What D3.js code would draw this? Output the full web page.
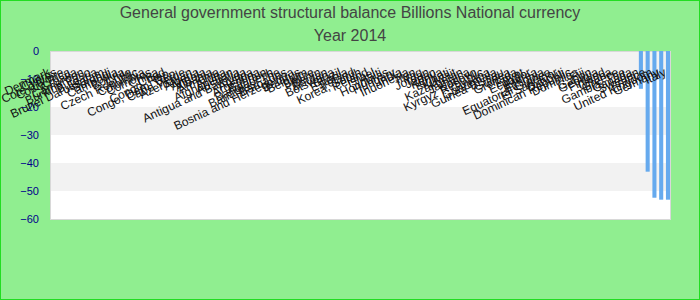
<!DOCTYPE html>
<html>
<head>
<meta charset="utf-8">
<script src="https://cdn.jsdelivr.net/npm/d3@7"></script>
<style>
  body { margin: 0; }
  svg { display: block; font-family: "Liberation Sans", Arial, sans-serif; }
</style>
</head>
<body>
<div id="canvas"></div>
<script>
"use strict"

/* Configuration variables: drawing */
let svgWidth = 700;
let svgHeight = 300;
let plot = { left: 50, right: 670, top: 51, bottom: 219 };

/* Data: countries (in chart order) and their values */
let countries = [
    "Denmark", "Cyprus", "Cote d'Ivoire", "Costa Rica", "Croatia", "Cameroon",
    "Burkina Faso", "Bulgaria", "Brunei Darussalam", "Burundi", "Cambodia", "Bolivia",
    "Chile", "Czech Republic", "Colombia", "Comoros", "China", "Chad",
    "Congo, Rep.", "Congo, Dem. Rep.", "Cabo Verde", "Azerbaijan", "Algeria", "Angola",
    "Albania", "Armenia", "Aruba", "Afghanistan", "Australia", "Antigua and Barbuda",
    "Austria", "Argentina", "Bahrain", "Bangladesh", "Bahamas, The", "Barbados",
    "Bosnia and Herzegovina", "Belarus", "Belgium", "Belize", "Benin", "Bhutan",
    "Botswana", "Brazil", "Estonia", "Ireland", "Korea, South", "Iceland",
    "Israel", "Haiti", "Honduras", "Hungary", "India", "Indonesia",
    "Iran", "Iraq", "Jordan", "Japan", "Kenya", "Kiribati",
    "Kuwait", "Kazakhstan", "Jamaica", "Kosovo", "Kyrgyz Republic", "Guyana",
    "Guatemala", "Guinea-Bissau", "Guinea", "Grenada", "Egypt", "Ecuador",
    "Eritrea", "Ethiopia", "Equatorial Guinea", "El Salvador", "Djibouti", "Dominican Republic",
    "Dominica", "Fiji", "Gabon", "Georgia", "Finland", "Ghana",
    "Greece", "Gambia, The", "Canada", "Sweden", "France", "United Kingdom",
    "Germany", "Italy"
];

// only the last five countries have a (negative) value
let values = [
    0, 0, 0, 0, 0, 0, 0, 0, 0, 0, 0, 0,
    0, 0, 0, 0, 0, 0, 0, 0, 0, 0, 0, 0,
    0, 0, 0, 0, 0, 0, 0, 0, 0, 0, 0, 0,
    0, 0, 0, 0, 0, 0, 0, 0, 0, 0, 0, 0,
    0, 0, 0, 0, 0, 0, 0, 0, 0, 0, 0, 0,
    0, 0, 0, 0, 0, 0, 0, 0, 0, 0, 0, 0,
    0, 0, 0, 0, 0, 0, 0, 0, 0, 0, 0, 0,
    0, 0, 0,
    -13.5, -43.1, -52.4, -53.1, -53.1
];

let yTicks = [0, -10, -20, -30, -40, -50, -60];

let titleLines = ["General government structural balance Billions National currency", "Year 2014"];

let dataset = countries.map((c, i) => ({ country: c, value: values[i] }));

/* Create drawing canvas */
let svg = d3.select("#canvas")
    .append("svg")
    .attr("width", svgWidth)
    .attr("height", svgHeight);

/* Background + border */
svg.append("rect")
    .attr("x", 0.5)
    .attr("y", 0.5)
    .attr("width", svgWidth - 1)
    .attr("height", svgHeight - 1)
    .attr("fill", "#90ee90")
    .attr("stroke", "#22dd22");

/* Title */
svg.selectAll("text.title")
    .data(titleLines)
    .join("text")
    .attr("class", "title")
    .attr("x", svgWidth / 2)
    .attr("y", (d, i) => 18 + i * 23)
    .attr("text-anchor", "middle")
    .attr("font-size", 16)
    .attr("fill", "#444")
    .text(d => d);

/* Scales */
let xScale = d3.scaleBand()
    .domain(countries)
    .range([plot.left, plot.right])
    .paddingInner(0.4)
    .paddingOuter(0);

let yScale = d3.scaleLinear()
    .domain([-60, 0])
    .range([plot.bottom, plot.top]);

/* Plot area with alternating bands */
svg.append("rect")
    .attr("x", plot.left)
    .attr("y", plot.top)
    .attr("width", plot.right - plot.left)
    .attr("height", plot.bottom - plot.top)
    .attr("fill", "white");

let bandStarts = yTicks.slice(0, -1);
svg.selectAll("rect.band")
    .data(bandStarts)
    .join("rect")
    .attr("class", "band")
    .attr("x", plot.left)
    .attr("y", d => yScale(d))
    .attr("width", plot.right - plot.left)
    .attr("height", d => yScale(d - 10) - yScale(d))
    .attr("fill", (d, i) => i % 2 === 0 ? "#f2f2f2" : "white");

svg.append("rect")
    .attr("x", plot.left + 0.5)
    .attr("y", plot.top + 0.5)
    .attr("width", plot.right - plot.left)
    .attr("height", plot.bottom - plot.top)
    .attr("fill", "none")
    .attr("stroke", "#d8d8d8");

/* Y axis labels */
let yAxis = svg.append("g")
    .attr("transform", "translate(" + plot.left + ",0)")
    .call(d3.axisLeft(yScale).tickValues(yTicks).tickSize(0).tickPadding(11));
yAxis.select(".domain").remove();
yAxis.selectAll("text")
    .attr("font-size", 11)
    .attr("font-family", "Liberation Sans, Arial, sans-serif")
    .attr("fill", "#00008b");

/* Bars */
svg.selectAll("rect.bar")
    .data(dataset)
    .join("rect")
    .attr("class", "bar")
    .attr("x", d => xScale(d.country))
    .attr("y", d => yScale(Math.max(0, d.value)))
    .attr("width", xScale.bandwidth())
    .attr("height", d => Math.abs(yScale(d.value) - yScale(0)))
    .attr("fill", "#66aaee");

/* Category labels, rotated, hanging below the zero line */
svg.selectAll("text.cat")
    .data(dataset)
    .join("text")
    .attr("class", "cat")
    .attr("transform", d => "translate(" + (xScale(d.country) + xScale.bandwidth() / 2 - 1) + "," + (yScale(0) + 24) + ") rotate(-25)")
    .attr("text-anchor", "end")
    .attr("font-size", 12)
    .attr("fill", "#111")
    .text(d => d.country);
</script>
</body>
</html>
